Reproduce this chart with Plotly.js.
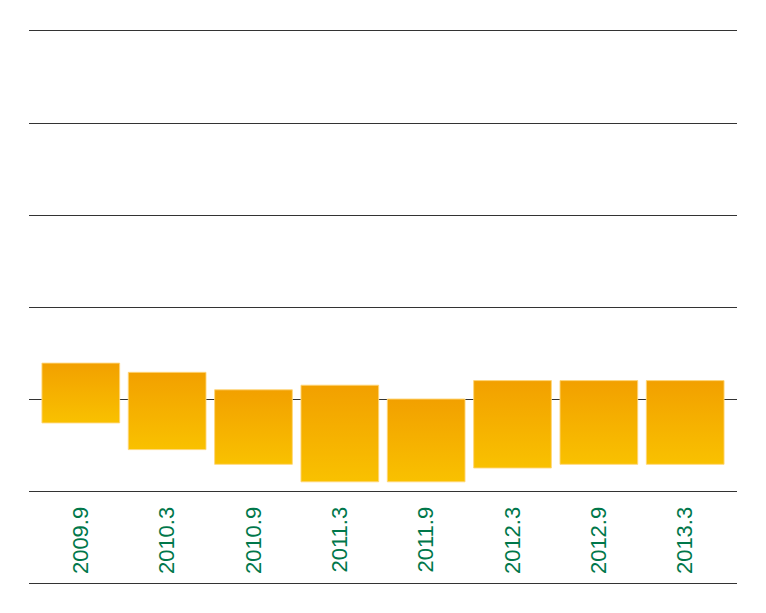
<!DOCTYPE html>
<html><head><meta charset="utf-8">
<script src="https://cdn.plot.ly/plotly-3.0.1.min.js"></script>
<style>html,body{margin:0;padding:0;background:#fff}#chart{width:766px;height:613px}</style>
</head><body><div id="chart"></div>
<script>
const categories = ["2009.9","2010.3","2010.9","2011.3","2011.9","2012.3","2012.9","2013.3"];
const barLow  = [0.74, 0.45, 0.29, 0.10, 0.10, 0.25, 0.29, 0.29];
const barHigh = [1.39, 1.29, 1.10, 1.15, 1.00, 1.20, 1.20, 1.20];

const halfW = 0.45;
const traces = categories.map((c, i) => ({
  type: 'scatter', mode: 'lines', fill: 'toself',
  x: [i - halfW, i + halfW, i + halfW, i - halfW, i - halfW],
  y: [barLow[i], barLow[i], barHigh[i], barHigh[i], barLow[i]],
  line: {color: 'rgba(255,214,120,0.9)', width: 1},
  fillgradient: {type: 'vertical', colorscale: [[0, '#f9c100'], [1, '#f2a000']]},
  hoverinfo: 'skip', showlegend: false
}));

const layout = {
  width: 766, height: 613,
  margin: {l: 29, r: 29, t: 31, b: 30},
  paper_bgcolor: '#fff', plot_bgcolor: '#fff',
  showlegend: false,
  xaxis: {
    range: [-0.6, 7.6], showgrid: false, zeroline: false,
    tickmode: 'array', tickvals: categories.map((c, i) => i), ticktext: categories,
    tickangle: -90, ticks: '',
    ticklabelstandoff: 6,
    tickfont: {family: 'Liberation Sans, Arial, sans-serif', size: 22, color: '#00774a'},
    showline: true, mirror: true, linecolor: '#333', linewidth: 1
  },
  yaxis: {
    domain: [92/552, 1],
    range: [0, 5], dtick: 1, tick0: 0, showgrid: true, gridcolor: '#333', gridwidth: 1,
    zeroline: false, showticklabels: false, ticks: '', showline: false
  },
  shapes: [{type: 'line', xref: 'paper', yref: 'paper', x0: 0, x1: 1, y0: -0.5/552, y1: -0.5/552,
            line: {color: '#333', width: 1}}]
};
Plotly.newPlot('chart', traces, layout, {displayModeBar: false, staticPlot: true});
</script></body></html>
